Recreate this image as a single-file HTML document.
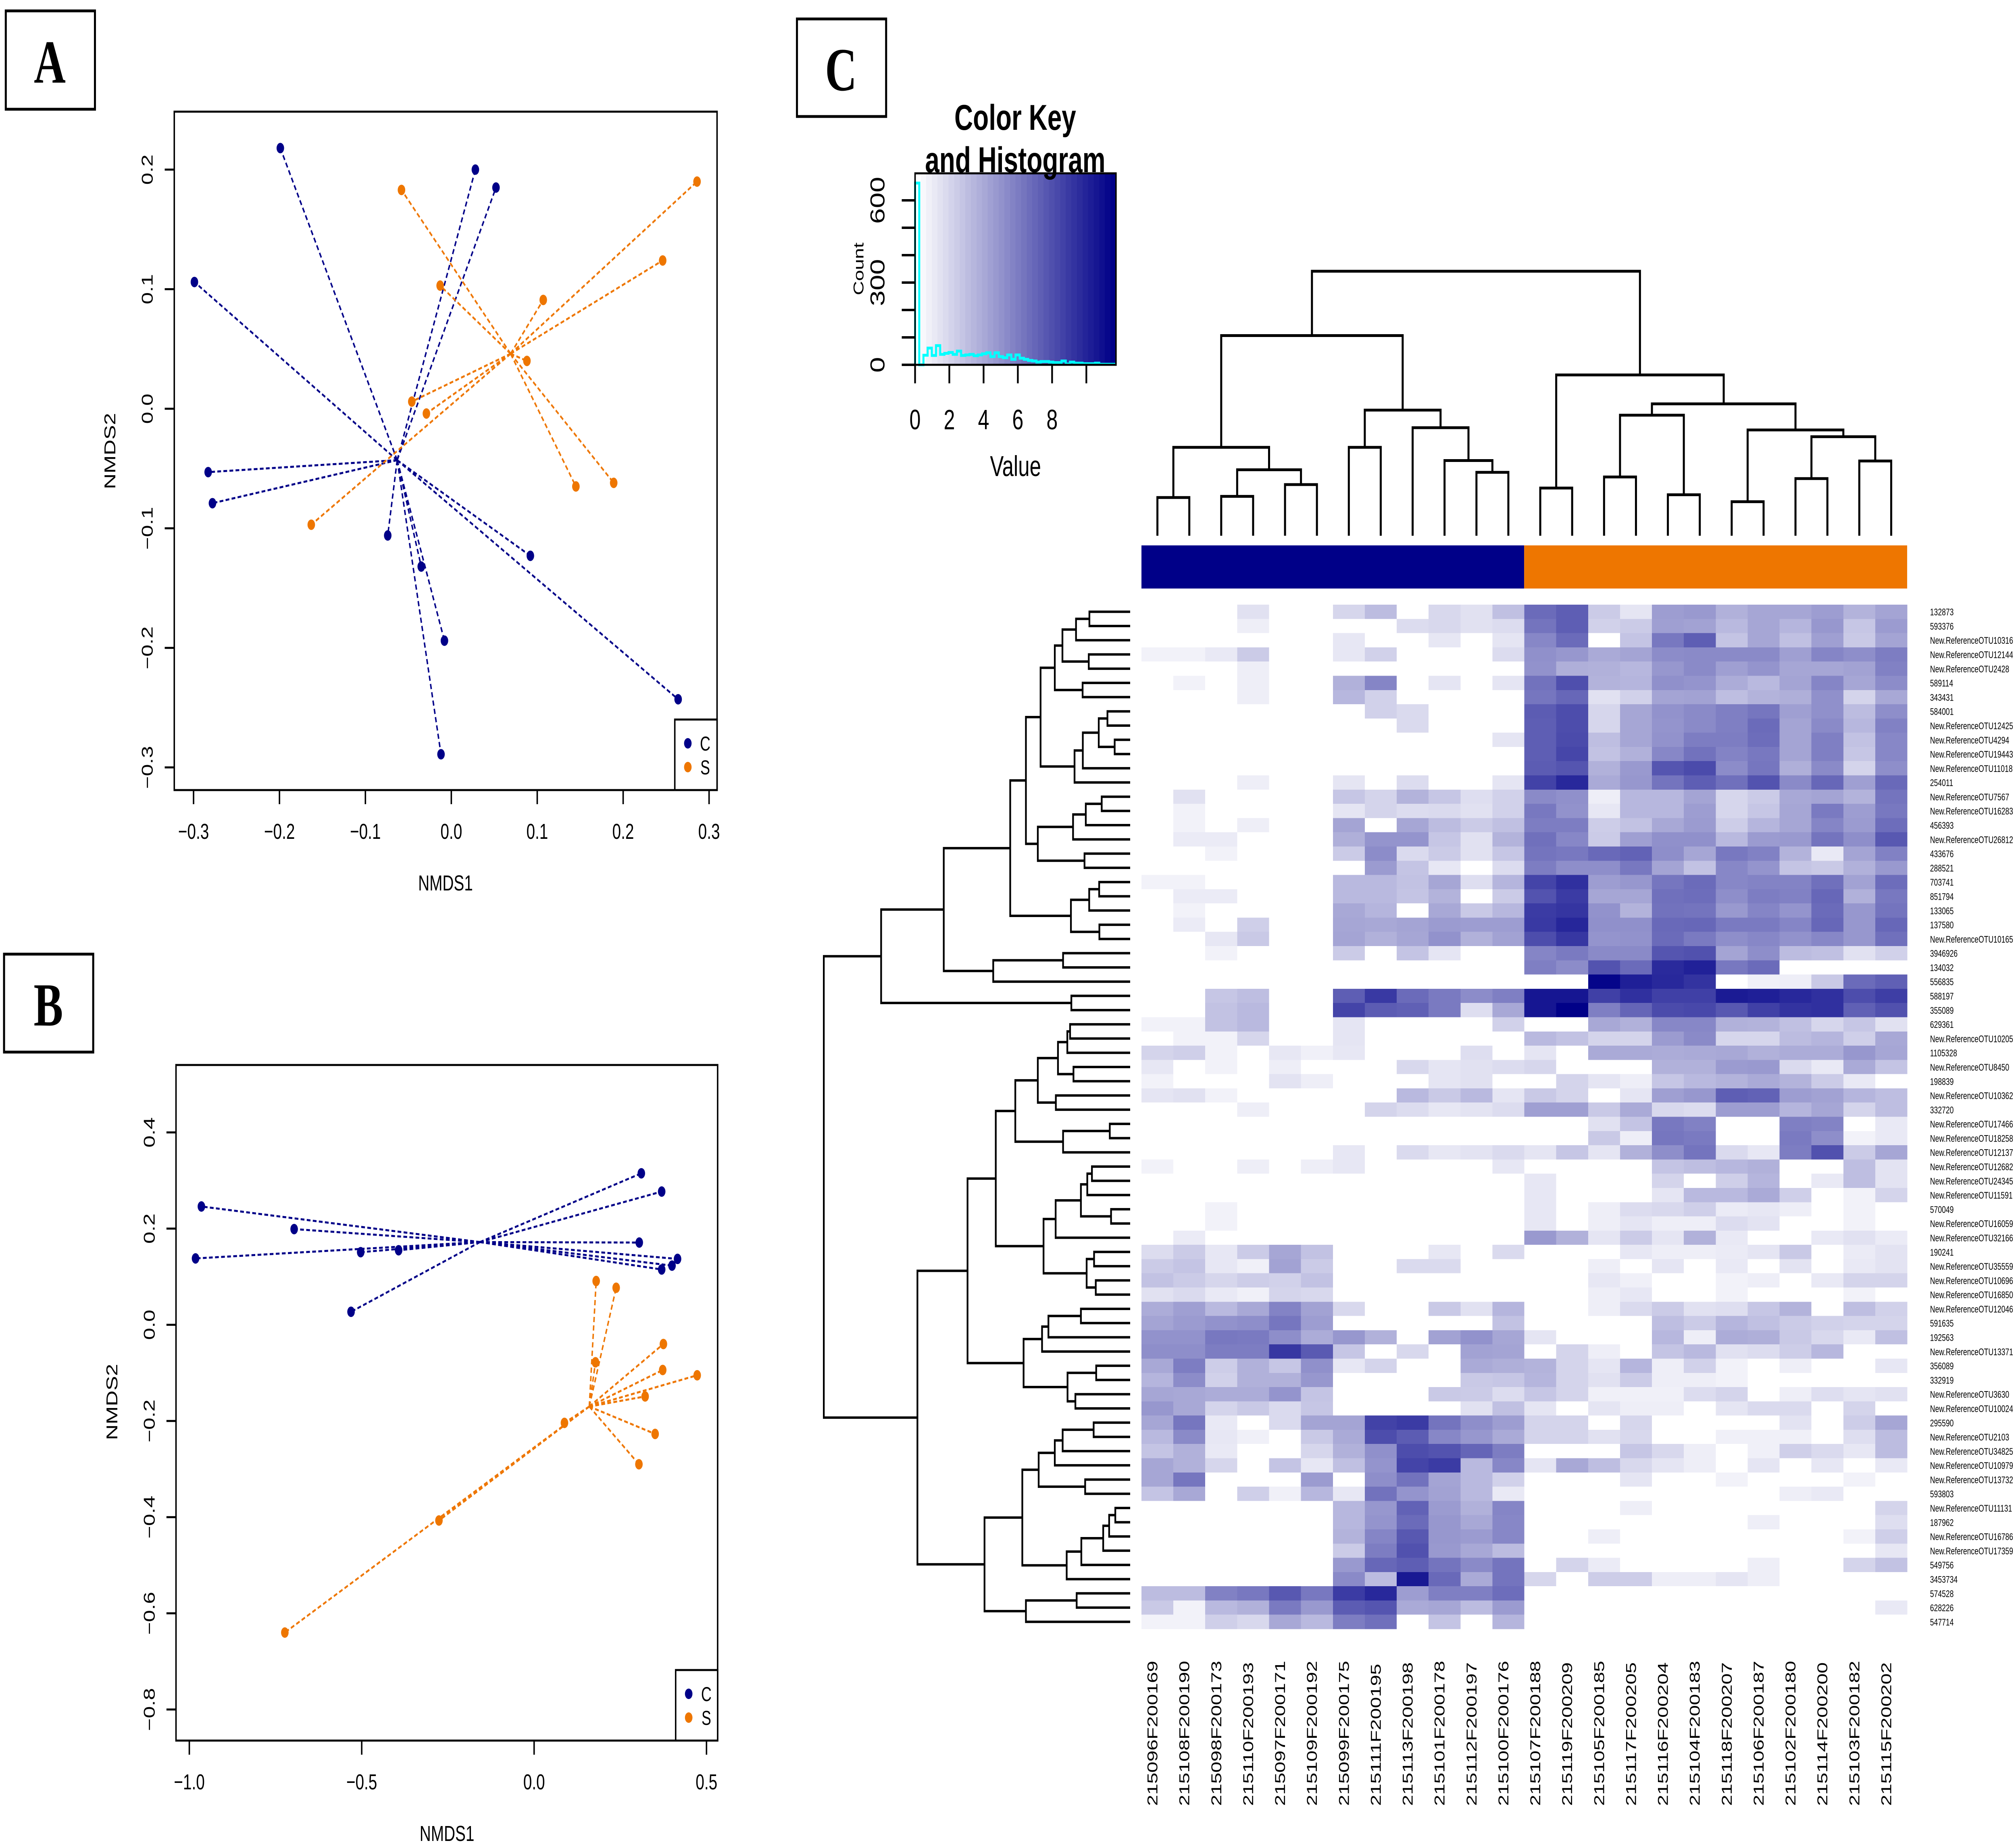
<!DOCTYPE html>
<html>
<head>
<meta charset="utf-8">
<title>NMDS ordinations and OTU heatmap</title>
<style>
html,body{margin:0;padding:0;background:#fff;width:100%;height:100%;overflow:hidden}
svg{display:block;width:100vw;height:100vh}
text{font-family:"Liberation Sans",sans-serif;fill:#000}
.letter{font-family:"Liberation Serif",serif;font-weight:bold;font-size:152px;text-anchor:middle}
</style>
</head>
<body>
<svg id="fig" xmlns="http://www.w3.org/2000/svg" viewBox="0 0 6964 4582" preserveAspectRatio="none">
<rect width="6964" height="4582" fill="#fff"/>
<g><rect x="20" y="27" width="308" height="244" fill="#fff" stroke="#000" stroke-width="7"/><text class="letter" x="172" y="205">A</text></g>
<g><rect x="14" y="2367" width="308" height="243" fill="#fff" stroke="#000" stroke-width="7"/><text class="letter" x="167" y="2544">B</text></g>
<g><rect x="2753" y="47" width="308" height="242" fill="#fff" stroke="#000" stroke-width="7"/><text class="letter" x="2905" y="224">C</text></g>
<g id="panelA"></g>
<g id="panelB"></g>
<g id="colorKey"></g>
<g id="colTree"></g>
<g id="rowTree"></g>
<rect x="3943" y="1353" width="1322" height="107" fill="#000088"/>
<rect x="5265" y="1353" width="1323" height="107" fill="#EE7600"/>
<g id="heat" shape-rendering="crispEdges"></g>
<g id="rowLabels"></g>
<g id="colLabels"></g>
</svg>
<script>
// ---------- Panel A data ----------
const aCX = [-0.199,0.028,0.052,-0.299,-0.283,-0.278,-0.074,-0.035,0.092,-0.008,0.264,-0.012];
const aCY = [0.218,0.200,0.185,0.106,-0.053,-0.079,-0.106,-0.132,-0.123,-0.194,-0.243,-0.289];
const aSX = [0.286,0.246,-0.058,-0.013,0.107,0.088,-0.046,-0.029,-0.163,0.145,0.189];
const aSY = [0.190,0.124,0.183,0.103,0.091,0.040,0.006,-0.004,-0.097,-0.065,-0.062];
const aCentroidC = [-0.063,-0.043];
const aCentroidS = [0.069,0.046];
const aXTicks = [-0.3,-0.2,-0.1,0,0.1,0.2,0.3];
const aXLabels = ['\u22120.3','\u22120.2','\u22120.1','0.0','0.1','0.2','0.3'];
const aYTicks = [-0.3,-0.2,-0.1,0,0.1,0.2];
const aYLabels = ['\u22120.3','\u22120.2','\u22120.1','0.0','0.1','0.2'];
// ---------- Panel B data ----------
const bCX = [-0.965,-0.696,-0.982,-0.503,-0.393,-0.531,0.311,0.370,0.305,0.416,0.400,0.370];
const bCY = [0.246,0.199,0.138,0.151,0.155,0.027,0.315,0.277,0.171,0.137,0.123,0.115];
const bSX = [0.180,0.238,0.375,0.373,0.473,0.178,0.322,0.351,0.304,0.088,-0.276,-0.723];
const bSY = [0.091,0.077,-0.040,-0.094,-0.105,-0.078,-0.149,-0.227,-0.290,-0.204,-0.407,-0.640];
const bCentroidC = [-0.157,0.172];
const bCentroidS = [0.160,-0.170];
const bXTicks = [-1,-0.5,0,0.5];
const bXLabels = ['\u22121.0','\u22120.5','0.0','0.5'];
const bYTicks = [-0.8,-0.6,-0.4,-0.2,0,0.2,0.4];
const bYLabels = ['\u22120.8','\u22120.6','\u22120.4','\u22120.2','0.0','0.2','0.4'];
// ---------- Colour key data ----------
const keyMax = 11.73;
const keyXTicks = [0,2,4,6,8,10];
const keyXLabels = ['0','2','4','6','8'];
const keyYTicks = [0,100,200,300,400,500,600];
const keyYLabels = ['0','300','600'];
const histCounts = [663,0,35,61,34,70,38,42,45,38,50,34,36,38,33,36,40,44,30,44,30,26,36,20,36,24,20,16,14,10,12,12,10,8,8,14,3,10,6,6,4,4,4,6,2,2,2,2];
// ---------- Heatmap data ----------
const colNames = ['215096F200169','215108F200190','215098F200173','215110F200193','215097F200171','215109F200192','215099F200175','215111F200195','215113F200198','215101F200178','215112F200197','215100F200176','215107F200188','215119F200209','215105F200185','215117F200205','215116F200204','215104F200183','215118F200207','215106F200187','215102F200180','215114F200200','215103F200182','215115F200202'];
const rowNames = ['132873','593376','New.ReferenceOTU10316','New.ReferenceOTU12144','New.ReferenceOTU2428','589114','343431','584001','New.ReferenceOTU12425','New.ReferenceOTU4294','New.ReferenceOTU19443','New.ReferenceOTU11018','254011','New.ReferenceOTU7567','New.ReferenceOTU16283','456393','New.ReferenceOTU26812','433676','288521','703741','851794','133065','137580','New.ReferenceOTU10165','3946926','134032','556835','588197','355089','629361','New.ReferenceOTU10205','1105328','New.ReferenceOTU8450','198839','New.ReferenceOTU10362','332720','New.ReferenceOTU17466','New.ReferenceOTU18258','New.ReferenceOTU12137','New.ReferenceOTU12682','New.ReferenceOTU24345','New.ReferenceOTU11591','570049','New.ReferenceOTU16059','New.ReferenceOTU32166','190241','New.ReferenceOTU35559','New.ReferenceOTU10696','New.ReferenceOTU16850','New.ReferenceOTU12046','591635','192563','New.ReferenceOTU13371','356089','332919','New.ReferenceOTU3630','New.ReferenceOTU10024','295590','New.ReferenceOTU2103','New.ReferenceOTU34825','New.ReferenceOTU10979','New.ReferenceOTU13732','593803','New.ReferenceOTU11131','187962','New.ReferenceOTU16786','New.ReferenceOTU17359','549756','3453734','574528','628226','547714'];
const heatValues = [
[0,0,0,1.4,0,0,1.9,3.1,0,1.8,1.4,2.9,6.8,7.4,2.4,1.2,4.5,4.7,3.6,4.1,4.1,4.5,3.5,4.2],
[0,0,0,.8,0,0,0,0,1.6,1.8,1.4,1.6,6.4,7.4,2.1,2.4,4.4,4.3,3.2,4.1,3.4,4.8,2.6,4.6],
[0,0,0,0,0,0,1.1,0,0,1.1,0,1.2,5.5,6.8,0,2.7,6.2,7.4,2.7,4.1,2.9,4.4,2.5,4.2],
[.6,.6,1,2.4,0,0,1.1,2.1,0,0,0,1.6,5.1,4.8,3.9,4.2,5.3,5.4,5.4,5.4,4.4,5.6,5.2,6.0],
[0,0,0,.8,0,0,0,0,0,0,0,0,5.0,3.7,3.6,3.3,4.8,5.4,4.4,4.9,4.1,4.1,4.3,5.8],
[0,.6,0,.8,0,0,3.6,5.6,0,1.2,0,1.2,6.5,8.1,3.5,3.4,5.1,4.9,3.8,3.2,4.2,5.6,4.1,5.3],
[0,0,0,.8,0,0,3.3,2.1,0,0,0,0,6.3,7.0,1.4,2.1,4.2,4.3,3.0,3.5,3.7,5.1,2,4.0],
[0,0,0,0,0,0,0,2.1,1.7,0,0,0,7.5,8.2,1.9,4.1,5,5.4,5.9,6.3,4.4,5.1,3.1,5.2],
[0,0,0,0,0,0,0,0,1.7,0,0,0,7.4,8.2,1.9,4.1,4.9,5.4,5.9,6.8,4.2,5.4,3.3,5.8],
[0,0,0,0,0,0,0,0,0,0,0,1.2,7.4,8.3,3,4.1,5,6,6,6.7,4.2,5.9,2.8,5.5],
[0,0,0,0,0,0,0,0,0,0,0,0,7.4,8.5,2.8,3.6,5.5,6.5,5.7,6.2,4.2,5.9,2.6,5.5],
[0,0,0,0,0,0,0,0,0,0,0,0,7.5,7.8,3.6,4.7,7.8,8.3,5.3,6.3,3.7,5.4,2,5.2],
[0,0,0,.8,0,0,1.2,0,1.6,0,0,1.2,8.7,9.9,3.9,4.8,6.4,7.4,6.6,7.9,5.4,7,4.4,6.9],
[0,1.4,0,0,0,0,2.6,2,3.5,2.6,1.5,2.1,5.4,5.1,.8,3.3,3.3,4.2,1.9,2.4,4,4.2,3.5,6.4],
[0,.6,0,0,0,0,1.2,2,1.6,1.7,1.4,2.1,6.2,5.0,1.1,3.3,3.3,4.5,1.9,2.6,4.1,6.1,4.5,6.2],
[0,.6,0,.8,0,0,4.2,0,4.1,3.1,2.4,2.9,6,6,2.3,2.8,4,4.6,2.3,3.4,4.1,5.6,4.6,6.7],
[0,.9,.9,0,0,0,3.7,4.9,4.9,2.6,1.4,3.5,6.6,5.5,2.4,4.4,5.1,5.1,3.2,4.6,4.7,6.4,5.2,7.7],
[0,0,.6,0,0,0,2.4,5.3,1.7,2.4,1.4,2.6,6.4,6.2,6.9,7.2,5.2,4.1,6.2,5.8,3.5,1,4.2,5.8],
[0,0,0,0,0,0,0,4.6,2.7,1.1,0,1.6,6,5.2,5.2,6.2,4.2,2.8,5.5,4.9,2.7,2.5,3.6,4.7],
[.6,.6,0,0,0,0,3.2,3.2,2.8,4.1,1.5,3.4,8.6,9.5,4.5,4.8,6.3,6.8,5.5,5.7,5.7,6.6,4.3,6.7],
[0,.9,.9,0,0,0,3.2,3.2,2.7,3.5,0,2.4,7.9,9,4.1,4.1,6.6,6.7,5.2,6,5.8,7,3.6,6.2],
[0,.6,0,0,0,0,4,3.4,0,4,2.5,3.3,9,9.3,5,3.5,6.5,6.4,4.7,5.6,4.9,6.8,4.8,6.4],
[0,.9,0,2.2,0,0,4.1,4.0,4.2,4.6,4.5,4.5,9.1,10.0,5.1,5.1,6.9,7,6.1,6.1,5.6,7,4.8,7],
[0,0,1.1,2.5,0,0,4.2,3.6,4.1,5,3.6,4.3,8.2,9.2,4.9,5,6.8,6.1,5.2,5.5,5.0,5.5,4.8,6.6],
[0,0,.6,0,0,0,2.4,0,2.7,1.2,0,0,5.6,6.1,5.4,5.4,7.8,8,4.2,5.2,3.1,2.9,1.4,2.1],
[0,0,0,0,0,0,0,0,0,0,0,0,5.9,5.3,7.9,6.8,9.8,10.2,6.2,6.8,0,0,0,0],
[0,0,0,0,0,0,0,0,0,0,0,0,0,0,11.5,10.3,9.9,9.4,0,.7,.8,2.5,6.8,7.3],
[0,0,2.6,3,0,0,7.4,9.1,6.8,6.1,5.3,5.9,10.7,10.7,8.8,9.5,8.8,8.8,10.5,10.3,9.9,9.5,8.2,8.9],
[0,0,2.8,3.2,0,0,8.6,7.5,7.3,6.1,1.5,4,10.7,11.7,5.9,7.1,8.3,8.4,7.7,8.8,9.4,9.5,7.3,8],
[.6,.6,2.8,3.2,0,0,1.2,0,0,0,0,2.1,0,0,4,3.6,5.5,5.5,3.6,3.5,2.9,1.9,2.6,1.4],
[0,.6,.6,1.9,0,0,1.2,0,0,0,0,0,3.2,2.8,2,2,4.6,5.4,1.9,1.9,3.1,3.4,2.2,4.0],
[2,2.2,.6,0,1.1,.7,1.1,0,0,0,1.5,0,1.2,0,3.9,3.9,3.8,3.9,4,3.6,3.8,3.8,4.8,4.1],
[1.1,0,.6,0,.8,0,0,0,1.8,1.2,1.4,1.6,1.9,0,0,0,3.6,3.6,4.6,4.7,1.7,1,3.9,2.7],
[.6,0,0,0,1.3,.8,0,0,0,1.2,1.4,0,0,2,1.2,.8,2.6,3.2,3.5,3.9,3.5,2.4,1,0],
[1.2,1.4,.6,0,0,0,0,0,3.2,2.5,3.2,1.2,2.5,2,0,1.2,4.4,4.8,7.4,7.2,4.5,4.3,3.4,3.0],
[0,0,0,.8,0,0,0,2,1.6,1.1,1.3,1.6,4.4,4.4,2.5,3.9,1.8,1.6,4.5,4.5,3.4,4.1,2,3],
[0,0,0,0,0,0,0,0,0,0,0,0,0,0,1.4,2.7,6.2,5.8,0,0,5.9,5.7,0,1],
[0,0,0,0,0,0,0,0,0,0,0,0,0,0,2.5,.8,6.3,6.1,0,0,6.1,5.2,.6,1],
[0,0,0,0,0,0,1.1,0,1.7,1.1,1.3,1.7,1.2,2.6,1.2,3.6,5.2,6.4,1.7,1.1,6,8,2.4,4.1],
[.6,0,0,.8,0,.8,1.1,0,0,0,0,1.1,0,0,0,0,2.7,3,3.3,3.6,0,0,3,1.3],
[0,0,0,0,0,0,0,0,0,0,0,0,1.1,0,0,0,2,0,2.2,3.4,0,1,3,1.3],
[0,0,0,0,0,0,0,0,0,0,0,0,1.1,0,0,0,1.2,3.2,3.2,3.9,2.2,0,.6,2],
[0,0,.6,0,0,0,0,0,0,0,0,0,1.1,0,.8,1.6,1.8,2.2,.9,1.1,.8,0,.6,0],
[0,0,.6,0,0,0,0,0,0,0,0,0,1.1,0,.8,1.2,.8,.8,1.6,1.3,0,0,.6,0],
[0,.9,0,0,0,0,0,0,0,0,0,0,4.7,3.6,1.2,2.4,1.2,3.6,1,0,0,1,1.4,.9],
[1.6,2.4,1.1,2.4,4.1,2.8,0,0,0,1.1,0,1.7,0,0,0,1.1,.8,.8,.9,1.2,2.5,0,.9,1.3],
[2.4,2.7,1.1,.7,4.3,2.4,0,0,1.7,1.7,0,0,0,0,.8,0,1.2,0,1,0,1.3,0,1,1.3],
[2.8,2.4,1.9,2.3,2.1,2.8,0,0,0,0,0,0,0,0,1.1,.7,0,0,.6,.8,0,1,2,2],
[1.4,1.7,1,.7,2,1.8,0,0,0,0,0,0,0,0,.8,1.1,0,0,.6,0,0,0,.6,0],
[3.8,4.4,3.2,4,5.7,4.3,1.8,0,0,2.5,1.4,3.4,0,0,.8,1.7,2.4,1.4,1.5,2.6,3.5,0,3,2.1],
[4.2,4.6,5,5.2,6.3,4.5,0,0,0,0,0,2.8,0,0,0,0,3,2.4,3.4,2.9,2.4,2.1,2,2],
[5,5,6.2,6.1,5.2,3.8,4.8,3.6,0,4.3,5,4.1,1.2,0,0,0,3.3,.8,3.8,3.7,2.5,1.8,1,2.9],
[5.2,5.2,6,6.0,9.2,7.6,2.6,0,1.8,0,4.3,4.2,0,2,.8,0,2.7,3.2,1.4,1.6,2.3,3.3,0,0],
[4,6,2.3,3.6,2.6,5.1,1.1,2,0,0,3.9,3.7,3.5,2,1.2,3.4,.8,2.1,.6,0,.8,0,0,1.1],
[3.4,5.3,2.1,3.6,3.6,4.8,0,0,0,0,2.5,2.6,3.4,2,1.4,2.4,.8,.8,.6,0,0,0,0,0],
[4.1,4,3.8,3.8,4.9,2.7,0,0,0,2.5,2.4,1.6,2.6,2,.7,.7,.7,1.6,2,0,.8,1.5,1.2,1.4],
[4.8,4,2,2.5,1.7,2.6,0,0,0,0,1.4,2.9,1.2,0,1.2,.8,.8,0,1.2,1.7,1.7,0,2,0],
[4.1,6.3,1,0,1.7,4.2,4.2,8.7,9,6.4,5.2,4.5,2,2,0,1.9,0,0,0,0,1.3,0,2.3,4.1],
[3.2,5.4,1.1,.7,0,2.5,3.9,8.2,7.5,5.5,4.8,3.9,2,2,1.4,1.8,0,0,.7,.7,.7,0,1.5,3.1],
[2.7,3.6,1,0,0,1.9,3.6,5.1,8.2,7.9,7.1,6,0,0,0,2.6,1.8,.8,0,.7,2.2,1.7,1.1,3.1],
[4.1,3.6,1.9,0,2.7,1.1,2.9,4.9,8.6,9,3.2,5.5,1.2,4,3,1.8,1.2,.8,0,1.2,0,1.1,0,1],
[4.1,6.3,0,0,0,4.6,0,5.2,6.5,4.2,3.2,2.1,0,0,0,1.2,0,0,.6,0,0,0,.6,0],
[2.7,4,0,2.2,.7,3.3,1.1,6.5,4.9,4.3,3.2,1,0,0,0,0,0,0,0,0,.8,1,0,0],
[0,0,0,0,0,0,3.3,4.8,7.2,4.6,3.6,5.6,0,0,0,.8,0,0,0,0,0,0,0,2],
[0,0,0,0,0,0,3.3,4.9,6.8,4.8,4,5.5,0,0,0,0,0,0,0,.8,0,0,0,1.5],
[0,0,0,0,0,0,3.5,5.6,7.7,4.8,4.6,5.5,0,0,.8,0,0,0,0,0,0,0,.6,2.2],
[0,0,0,0,0,0,2.4,6,8,4.7,4,3.1,0,0,0,0,0,0,0,0,0,0,0,1.1],
[0,0,0,0,0,0,4.7,7,7.4,6.4,5.4,6.4,0,2,.9,0,0,0,0,.8,0,0,2,2.8],
[0,0,0,0,0,0,5.4,3.1,10.6,6.9,3.9,6.4,1.9,0,2.3,2.3,.8,.8,1.2,.8,0,0,0,0],
[3.1,3.1,5.8,6.2,7.7,6.2,9,9.9,4.5,5.9,5.9,6.7,0,0,0,0,0,0,0,0,0,0,0,0],
[2.5,.6,3.2,3.6,6.1,4.7,7.5,7.8,3.9,4.1,3.1,4.6,0,0,0,0,0,0,0,0,0,0,0,1],
[.6,.6,2.2,1.8,4,3.2,6,6.6,0,2.7,0,3.4,0,0,0,0,0,0,0,0,0,0,0,0]
];
// ---------- Dendrogram merges: [child, child, merge distance]; integers are leaves ----------
const colMerges = [[[[[0,1,165],[[2,3,170],[4,5,221],285],382],[[6,7,382],[8,[9,[10,11,274],325],467],543],865],[[12,13,206],[[[14,15,254],[16,17,177],521],[[18,19,147],[[20,21,247],[22,23,323],428],457],570],695],1143]][0];
const rowMergesUpper = [[[[[[[[[0,1,192],2,255],[3,4,195],319],[5,6,224],355],[[[[7,8,107],[9,10,73],148],11,223],12,262],422],[[[[13,14,134],15,209],16,269],[17,18,215],435],491],[[[19,20,146],21,193],[22,23,145],279],565],[[24,25,316],26,645],878],[27,28,277],1173];
const rowMergesLower = [[[[[[[[29,30,283],31,296],[32,33,267],340],[34,35,350],435],[[36,37,96],38,316],541],[[[[[39,40,180],41,202],[42,43,90],232],44,351],[[45,46,170],[47,48,162],205],408],633],[[[[49,50,232],51,385],52,415],[[53,54,160],[55,56,258],295],502],766],[[[[[[57,58,172],59,318],60,355],[61,62,212],431],[[[[[63,64,70],65,99],66,127],67,230],68,299],508],[[69,70,252],71,491],686],1002];
const rowRootDistance = 1443;

// ---------- Helpers ----------
const NS = 'http://www.w3.org/2000/svg';
const NAVY = '#000088', ORANGE = '#EE7600';
function mk(parent, tag, attrs, txt){
  const e = document.createElementNS(NS, tag);
  for(const k in attrs) e.setAttribute(k, attrs[k]);
  if(txt !== undefined) e.textContent = txt;
  parent.appendChild(e);
  return e;
}
// ---------- NMDS panels ----------
function drawPanel(root, cfg){
  const X = v => cfg.x0 + v*cfg.xs;
  const Y = v => cfg.y0 - v*cfg.ys;
  const b = cfg.box;
  const series = [
    {name:'c', xs:cfg.cx, ys:cfg.cy, cen:cfg.cenC, col:NAVY},
    {name:'s', xs:cfg.sx, ys:cfg.sy, cen:cfg.cenS, col:ORANGE}
  ];
  series.forEach(s => {
    s.xs.forEach((vx,i) => {
      const l = mk(root,'line',{x1:X(s.cen[0]),y1:Y(s.cen[1]),x2:X(vx),y2:Y(s.ys[i]),stroke:s.col,'stroke-width':5,'stroke-dasharray':'13 8'});
      
      
    });
  });
  series.forEach(s => {
    s.xs.forEach((vx,i) => {
      const c = mk(root,'circle',{cx:X(vx),cy:Y(s.ys[i]),r:13,fill:s.col});
      
      
    });
  });
  const frame = mk(root,'rect',{x:b[0],y:b[1],width:b[2]-b[0],height:b[3]-b[1],fill:'none',stroke:'#000','stroke-width':5});
  
  
  cfg.xTicks.forEach((v,i) => {
    const t = mk(root,'line',{x1:X(v),x2:X(v),y1:b[3],y2:b[3]+35,stroke:'#000','stroke-width':5});
    
    
    const l = mk(root,'text',{x:X(v),y:cfg.xLabelY,'font-size':54,'text-anchor':'middle'},cfg.xLabels[i]);
    
    
  });
  cfg.yTicks.forEach((v,i) => {
    const t = mk(root,'line',{x1:b[0]-33,x2:b[0],y1:Y(v),y2:Y(v),stroke:'#000','stroke-width':5});
    
    
    const l = mk(root,'text',{transform:'translate('+cfg.yLabelX+','+Y(v)+') rotate(-90)','font-size':54,'text-anchor':'middle'},cfg.yLabels[i]);
    
    
  });
  const xt = mk(root,'text',{x:cfg.xTitle[0],y:cfg.xTitle[1],'font-size':54,'text-anchor':'middle'},'NMDS1');
  
  
  const yt = mk(root,'text',{transform:'translate('+cfg.yTitle[0]+','+cfg.yTitle[1]+') rotate(-90)','font-size':54,'text-anchor':'middle'},'NMDS2');
  
  
  const lg = cfg.legend;
  const lb = mk(root,'rect',{x:lg.x,y:lg.y,width:b[2]-lg.x,height:b[3]-lg.y,fill:'#fff',stroke:'#000','stroke-width':5});
  
  
  [['C',NAVY,lg.y1],['S',ORANGE,lg.y2]].forEach(it => {
    const d = mk(root,'circle',{cx:lg.dot,cy:it[2],r:13,fill:it[1]});
    
    
    const t = mk(root,'text',{x:lg.txt,y:it[2]+18,'font-size':50,'text-anchor':'middle'},it[0]);
    
    
  });
}
drawPanel(document.getElementById('panelA'),{
  x0:1559,xs:2968,y0:1014,ys:2966,box:[602,277,2477,1960],
  cx:aCX,cy:aCY,sx:aSX,sy:aSY,cenC:aCentroidC,cenS:aCentroidS,
  xTicks:aXTicks,xLabels:aXLabels,yTicks:aYTicks,yLabels:aYLabels,
  xLabelY:2081,yLabelX:527,xTitle:[1539,2209],yTitle:[398,1119],
  legend:{x:2331,y:1785,y1:1844,y2:1903,dot:2376,txt:2436}
});
drawPanel(document.getElementById('panelB'),{
  x0:1845,xs:1191,y0:3286.5,ys:1193,box:[608,2642,2479,4318],
  cx:bCX,cy:bCY,sx:bSX,sy:bSY,cenC:bCentroidC,cenS:bCentroidS,
  xTicks:bXTicks,xLabels:bXLabels,yTicks:bYTicks,yLabels:bYLabels,
  xLabelY:4439,yLabelX:534,xTitle:[1544,4567],yTitle:[405,3478],
  legend:{x:2334,y:4143,y1:4202,y2:4261,dot:2379,txt:2440}
});
// ---------- Colour scale ----------
function shade(v){
  const t = Math.max(0,Math.min(1,v/keyMax));
  const r = Math.round(255*(1-t)), b = Math.round(255-(255-136)*t);
  return 'rgb('+r+','+r+','+b+')';
}
// ---------- Colour key ----------
(function(){
  const root = document.getElementById('colorKey');
  const L=3161,R=3855,T=430,B=905;
  const kx = v => L + v*(R-L)/keyMax;
  const ky = c => B - c*0.68;
  const steps = 36;
  for(let i=0;i<steps;i++){
    const r = mk(root,'rect',{x:kx(i*keyMax/steps),y:T,width:(R-L)/steps+1,height:B-T,fill:shade(i/(steps-1)*keyMax),'shape-rendering':'crispEdges'});
    
    
  }
  const bw = keyMax/histCounts.length;
  let d = 'M'+kx(0)+' '+ky(0);
  histCounts.forEach((c,i) => { d += ' L'+kx(i*bw)+' '+ky(c)+' L'+kx((i+1)*bw)+' '+ky(c); });
  const h = mk(root,'path',{d:d,fill:'none',stroke:'#00FFFF','stroke-width':7});
  
  
  const f = mk(root,'rect',{x:L,y:T,width:R-L,height:B-T,fill:'none',stroke:'#000','stroke-width':5});
  
  
  keyXTicks.forEach((v,i) => {
    const t = mk(root,'line',{x1:kx(v),x2:kx(v),y1:B,y2:951,stroke:'#000','stroke-width':6});
    
    
    if(keyXLabels[i] !== undefined){
      const l = mk(root,'text',{x:kx(v),y:1065,'font-size':70,'text-anchor':'middle'},keyXLabels[i]);
      
      
    }
  });
  keyYTicks.forEach((v,i) => {
    const t = mk(root,'line',{x1:3115,x2:L,y1:ky(v),y2:ky(v),stroke:'#000','stroke-width':6});
    
    
    if(i%3===0){
      const l = mk(root,'text',{transform:'translate(3055,'+ky(v)+') rotate(-90)','font-size':70,'text-anchor':'middle'},keyYLabels[i/3]);
      
      
    }
  });
  const vt = mk(root,'text',{x:3508,y:1181,'font-size':71,'text-anchor':'middle'},'Value');
  
  
  const ct = mk(root,'text',{transform:'translate(2983,667) rotate(-90)','font-size':49,'text-anchor':'middle'},'Count');
  
  
  const t1 = mk(root,'text',{x:3507,y:322,'font-size':89,'font-weight':'bold','text-anchor':'middle'},'Color Key');
  
  
  const t2 = mk(root,'text',{x:3507,y:427,'font-size':89,'font-weight':'bold','text-anchor':'middle'},'and Histogram');
  
  
})();
// ---------- Heatmap geometry ----------
const HL=3943, HT=1500, CW=2645/24, RH=2541/72;
const colCenter = i => HL + CW*(i+0.5);
const rowCenter = i => HT + RH*(i+0.5);
// ---------- Dendrograms ----------
function walk(node, leafPos, draw){
  if(typeof node === 'number') return {p:leafPos(node),h:0};
  const a = walk(node[0],leafPos,draw), b = walk(node[1],leafPos,draw);
  draw(a,b,node[2]);
  return {p:(a.p+b.p)/2,h:node[2]};
}
(function(){
  const root = document.getElementById('colTree');
  const Y = h => 1329 - h*0.574;
  walk(colMerges,colCenter,(a,b,h)=>{
    const d = 'M'+a.p+' '+Y(a.h)+' L'+a.p+' '+Y(h)+' L'+b.p+' '+Y(h)+' L'+b.p+' '+Y(b.h);
    const e = mk(root,'path',{d:d,fill:'none',stroke:'#000','stroke-width':7});
    
    
  });
})();
(function(){
  const root = document.getElementById('rowTree');
  const X = h => 3904 - h*0.7334;
  walk([rowMergesUpper,rowMergesLower,rowRootDistance],rowCenter,(a,b,h)=>{
    const d = 'M'+X(a.h)+' '+a.p+' L'+X(h)+' '+a.p+' L'+X(h)+' '+b.p+' L'+X(b.h)+' '+b.p;
    const e = mk(root,'path',{d:d,fill:'none',stroke:'#000','stroke-width':6});
    
    
  });
})();
// ---------- Heatmap cells and labels ----------
(function(){
  const root = document.getElementById('heat');
  heatValues.forEach((row,r) => {
    row.forEach((v,c) => {
      const e = mk(root,'rect',{x:HL+CW*c,y:HT+RH*r,width:CW+0.5,height:RH+0.5,fill:shade(v)});
      
      
    });
  });
  const rl = document.getElementById('rowLabels');
  rowNames.forEach((n,r) => {
    const t = mk(rl,'text',{x:6667,y:rowCenter(r)+9,'font-size':24.5},n);
    
    
  });
  const cl = document.getElementById('colLabels');
  colNames.forEach((n,c) => {
    const t = mk(cl,'text',{transform:'translate('+colCenter(c)+',4480) rotate(-90)','font-size':49.4},n);
    
    
  });
})();
</script>
</body>
</html>
